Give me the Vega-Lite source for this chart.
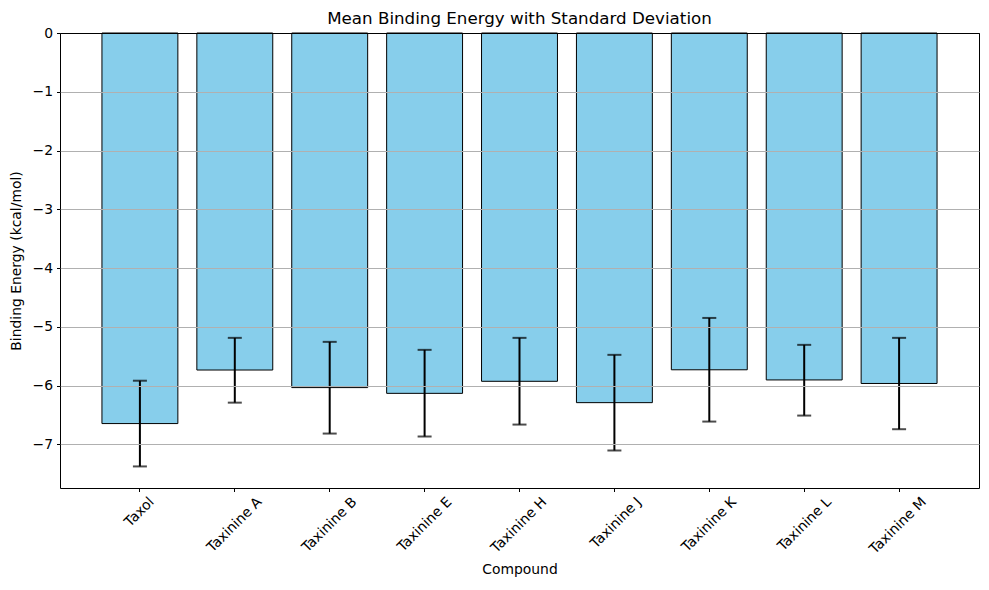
{
  "$schema": "https://vega.github.io/schema/vega-lite/v6.json",
  "autosize": "none",
  "width": 919,
  "height": 455,
  "padding": {"left": 60, "top": 33, "right": 10, "bottom": 102},
  "background": "white",
  "config": {
    "font": "DejaVu Sans",
    "view": {"stroke": "black", "strokeWidth": 1}
  },
  "title": {
    "text": "Mean Binding Energy with Standard Deviation",
    "fontSize": 16.7,
    "fontWeight": "normal",
    "font": "DejaVu Sans",
    "color": "black",
    "offset": -2
  },
  "data": {
    "values": [
      {"Compound": "Taxol", "mean": -6.644, "low": -7.373, "high": -5.915},
      {"Compound": "Taxinine A", "mean": -5.733, "low": -6.288, "high": -5.186},
      {"Compound": "Taxinine B", "mean": -6.032, "low": -6.814, "high": -5.254},
      {"Compound": "Taxinine E", "mean": -6.13, "low": -6.864, "high": -5.39},
      {"Compound": "Taxinine H", "mean": -5.925, "low": -6.661, "high": -5.186},
      {"Compound": "Taxinine J", "mean": -6.288, "low": -7.102, "high": -5.475},
      {"Compound": "Taxinine K", "mean": -5.729, "low": -6.61, "high": -4.847},
      {"Compound": "Taxinine L", "mean": -5.902, "low": -6.508, "high": -5.305},
      {"Compound": "Taxinine M", "mean": -5.962, "low": -6.74, "high": -5.186}
    ]
  },
  "encoding": {
    "x": {
      "field": "Compound",
      "type": "nominal",
      "sort": null,
      "scale": {"paddingInner": 0.2, "paddingOuter": 0.442},
      "axis": {
        "title": "Compound",
        "titleFontSize": 13.9,
        "titleFontWeight": "normal",
        "titleColor": "black",
        "titlePadding": 6,
        "labelAngle": -45,
        "labelAlign": "right",
        "labelBaseline": "top",
        "labelFontSize": 13.9,
        "labelColor": "black",
        "labelPadding": 3,
        "labelOffset": {"condition": {"test": "datum.value === 'Taxol'", "value": 7}, "value": 20},
        "tickColor": "black",
        "tickSize": 3.5,
        "domain": false,
        "grid": false
      }
    }
  },
  "layer": [
    {
      "mark": {"type": "bar", "color": "#87ceeb", "stroke": "black", "strokeWidth": 1},
      "encoding": {
        "y": {
          "field": "mean",
          "type": "quantitative",
          "scale": {"domain": [-7.74, 0], "nice": false, "zero": false},
          "axis": {
            "title": "Binding Energy (kcal/mol)",
            "titleFontSize": 13.9,
            "titleFontWeight": "normal",
            "titleColor": "black",
            "titlePadding": 9,
            "values": [0, -1, -2, -3, -4, -5, -6, -7],
            "format": "d",
            "labelFontSize": 13.9,
            "labelColor": "black",
            "labelPadding": 4,
            "tickColor": "black",
            "tickSize": 3.5,
            "domain": false,
            "grid": true,
            "gridColor": {"condition": {"test": "datum.value === 0", "value": "black"}, "value": "#b0b0b0"},
            "gridWidth": 1,
            "zindex": 1
          }
        }
      }
    },
    {
      "mark": {"type": "rule", "color": "black", "strokeWidth": 2},
      "encoding": {
        "y": {"field": "low", "type": "quantitative"},
        "y2": {"field": "high"}
      }
    },
    {
      "mark": {"type": "tick", "color": "black", "thickness": 2, "size": 14, "orient": "horizontal"},
      "encoding": {
        "y": {"field": "low", "type": "quantitative"}
      }
    },
    {
      "mark": {"type": "tick", "color": "black", "thickness": 2, "size": 14, "orient": "horizontal"},
      "encoding": {
        "y": {"field": "high", "type": "quantitative"}
      }
    }
  ]
}
